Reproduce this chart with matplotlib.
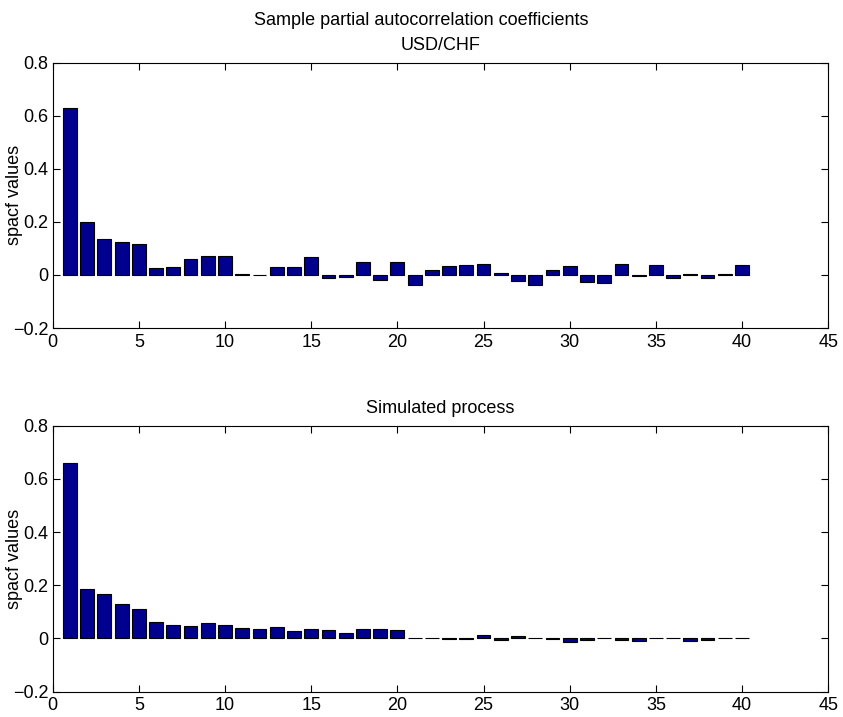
"""Sample partial autocorrelation coefficients, two panels."""

import matplotlib

matplotlib.use("Agg")
import matplotlib.pyplot as plt

plt.rcParams["font.family"] = ["Liberation Sans", "DejaVu Sans"]
plt.rc("font", size=13)

lags = list(range(1, 41))

# spacf of the USD/CHF series
usdchf = [
    0.630, 0.199, 0.134, 0.124, 0.118, 0.028, 0.031, 0.060, 0.071, 0.071,
    0.003, 0.001, 0.029, 0.030, 0.068, -0.013, -0.009, 0.048, -0.018, 0.048,
    -0.039, 0.019, 0.034, 0.038, 0.041, 0.008, -0.023, -0.036, 0.019, 0.033,
    -0.028, -0.031, 0.040, -0.005, 0.039, -0.013, 0.004, -0.010, 0.005, 0.036,
]

# spacf of the simulated process
simulated = [
    0.659, 0.187, 0.167, 0.131, 0.111, 0.063, 0.052, 0.048, 0.060, 0.050,
    0.040, 0.034, 0.042, 0.029, 0.034, 0.032, 0.021, 0.035, 0.034, 0.032,
    0.003, 0.002, -0.002, -0.001, 0.012, -0.004, 0.009, 0.002, -0.002, -0.015,
    -0.004, 0.001, -0.006, -0.008, 0.002, 0.003, -0.010, -0.005, 0.001, 0.001,
]

bar_color = "#00008f"

figure = plt.figure(figsize=(8.43, 7.17), dpi=100)
top = figure.add_axes([0.0625, 0.5425, 0.920, 0.370])
bottom = figure.add_axes([0.0625, 0.0353, 0.920, 0.371])

for axis, values, title in (
    (top, usdchf, "USD/CHF"),
    (bottom, simulated, "Simulated process"),
):
    axis.bar(lags, values, width=0.8, color=bar_color, edgecolor="black", linewidth=0.8)
    axis.set_xlim(0, 45)
    axis.set_ylim(-0.2, 0.8)
    axis.set_xticks(range(0, 46, 5))
    axis.set_yticks([-0.2, 0, 0.2, 0.4, 0.6, 0.8])
    axis.set_yticklabels(["\u22120.2", "0", "0.2", "0.4", "0.6", "0.8"])
    axis.tick_params(direction="in", top=True, right=True, length=5)
    axis.tick_params(axis="x", pad=4)
    axis.tick_params(axis="y", pad=3)
    # the label sits close to the tick labels, as in the original
    axis.set_ylabel("spacf values")
    axis.yaxis.set_label_coords(-0.038, 0.5)
    axis.set_title(title, fontsize=13, pad=9)

figure.text(0.5, 0.972, "Sample partial autocorrelation coefficients",
            ha="center", va="center", fontsize=13)

figure.savefig("out.png", dpi=100)
